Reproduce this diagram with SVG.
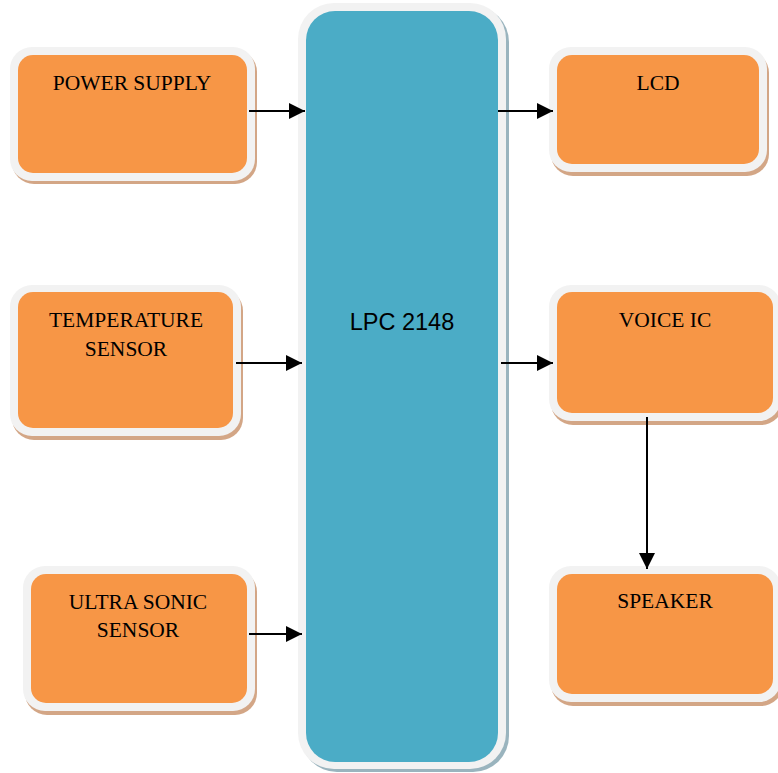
<svg xmlns="http://www.w3.org/2000/svg" width="778" height="773" viewBox="0 0 778 773">
<style>
.sh{fill:#d3a686}
.bd{fill:#f2f2f2}
.or{fill:#f79646}
.t{font-family:"Liberation Serif","Times New Roman",serif;font-size:21.5px;fill:#000;text-anchor:middle}
.ln{stroke:#000;stroke-width:2;fill:none}
</style>
<defs>
<marker id="ah" markerWidth="16" markerHeight="16" refX="16" refY="8" markerUnits="userSpaceOnUse" orient="auto">
<path d="M0,0 L16,8 L0,16 Z" fill="#000"/>
</marker>
</defs>
<rect width="778" height="773" fill="#fff"/>
<g id="lpc">
<rect x="301" y="6" width="208" height="766" rx="36" fill="#9ab4be"/>
<rect x="298" y="3" width="208" height="766" rx="36" class="bd"/>
<rect x="306" y="11" width="192" height="751" rx="29" fill="#4bacc6"/>
<text x="402" y="330" font-family="'Liberation Sans',Arial,sans-serif" font-size="23.5" text-anchor="middle" fill="#000">LPC 2148</text>
</g>
<g id="power">
<rect x="12" y="50" width="245" height="134" rx="22" class="sh"/>
<rect x="10" y="47" width="245" height="134" rx="22" class="bd"/>
<rect x="18" y="55" width="229" height="118" rx="15" class="or"/>
<text x="132" y="90" class="t">POWER SUPPLY</text>
</g>
<g id="temp">
<rect x="12" y="289" width="231" height="151" rx="22" class="sh"/>
<rect x="10" y="285" width="231" height="151" rx="22" class="bd"/>
<rect x="18" y="292" width="215" height="136" rx="15" class="or"/>
<text x="126" y="327" class="t">TEMPERATURE</text>
<text x="126" y="356" class="t">SENSOR</text>
</g>
<g id="ultra">
<rect x="25" y="570" width="232" height="145" rx="22" class="sh"/>
<rect x="23" y="566" width="232" height="145" rx="22" class="bd"/>
<rect x="31" y="574" width="216" height="129" rx="15" class="or"/>
<text x="138" y="609" class="t">ULTRA SONIC</text>
<text x="138" y="637" class="t">SENSOR</text>
</g>
<g id="lcd">
<rect x="551" y="51" width="218" height="125" rx="22" class="sh"/>
<rect x="549" y="47" width="218" height="125" rx="22" class="bd"/>
<rect x="557" y="55" width="202" height="109" rx="15" class="or"/>
<text x="658" y="90" class="t">LCD</text>
</g>
<g id="voice">
<rect x="551" y="289" width="232" height="136" rx="22" class="sh"/>
<rect x="549" y="285" width="232" height="136" rx="22" class="bd"/>
<rect x="557" y="292" width="216" height="121" rx="15" class="or"/>
<text x="665" y="327" class="t">VOICE IC</text>
</g>
<g id="speaker">
<rect x="551" y="570" width="232" height="136" rx="22" class="sh"/>
<rect x="549" y="566" width="232" height="136" rx="22" class="bd"/>
<rect x="557" y="574" width="216" height="120" rx="15" class="or"/>
<text x="665" y="608" class="t">SPEAKER</text>
</g>
<g id="connectors">
<line x1="249" y1="111" x2="305" y2="111" class="ln" marker-end="url(#ah)"/>
<line x1="236" y1="363" x2="302" y2="363" class="ln" marker-end="url(#ah)"/>
<line x1="249" y1="634" x2="302" y2="634" class="ln" marker-end="url(#ah)"/>
<line x1="498" y1="111" x2="553" y2="111" class="ln" marker-end="url(#ah)"/>
<line x1="501" y1="363" x2="553" y2="363" class="ln" marker-end="url(#ah)"/>
<line x1="647" y1="417" x2="647" y2="569" class="ln" marker-end="url(#ah)"/>
</g>
</svg>
